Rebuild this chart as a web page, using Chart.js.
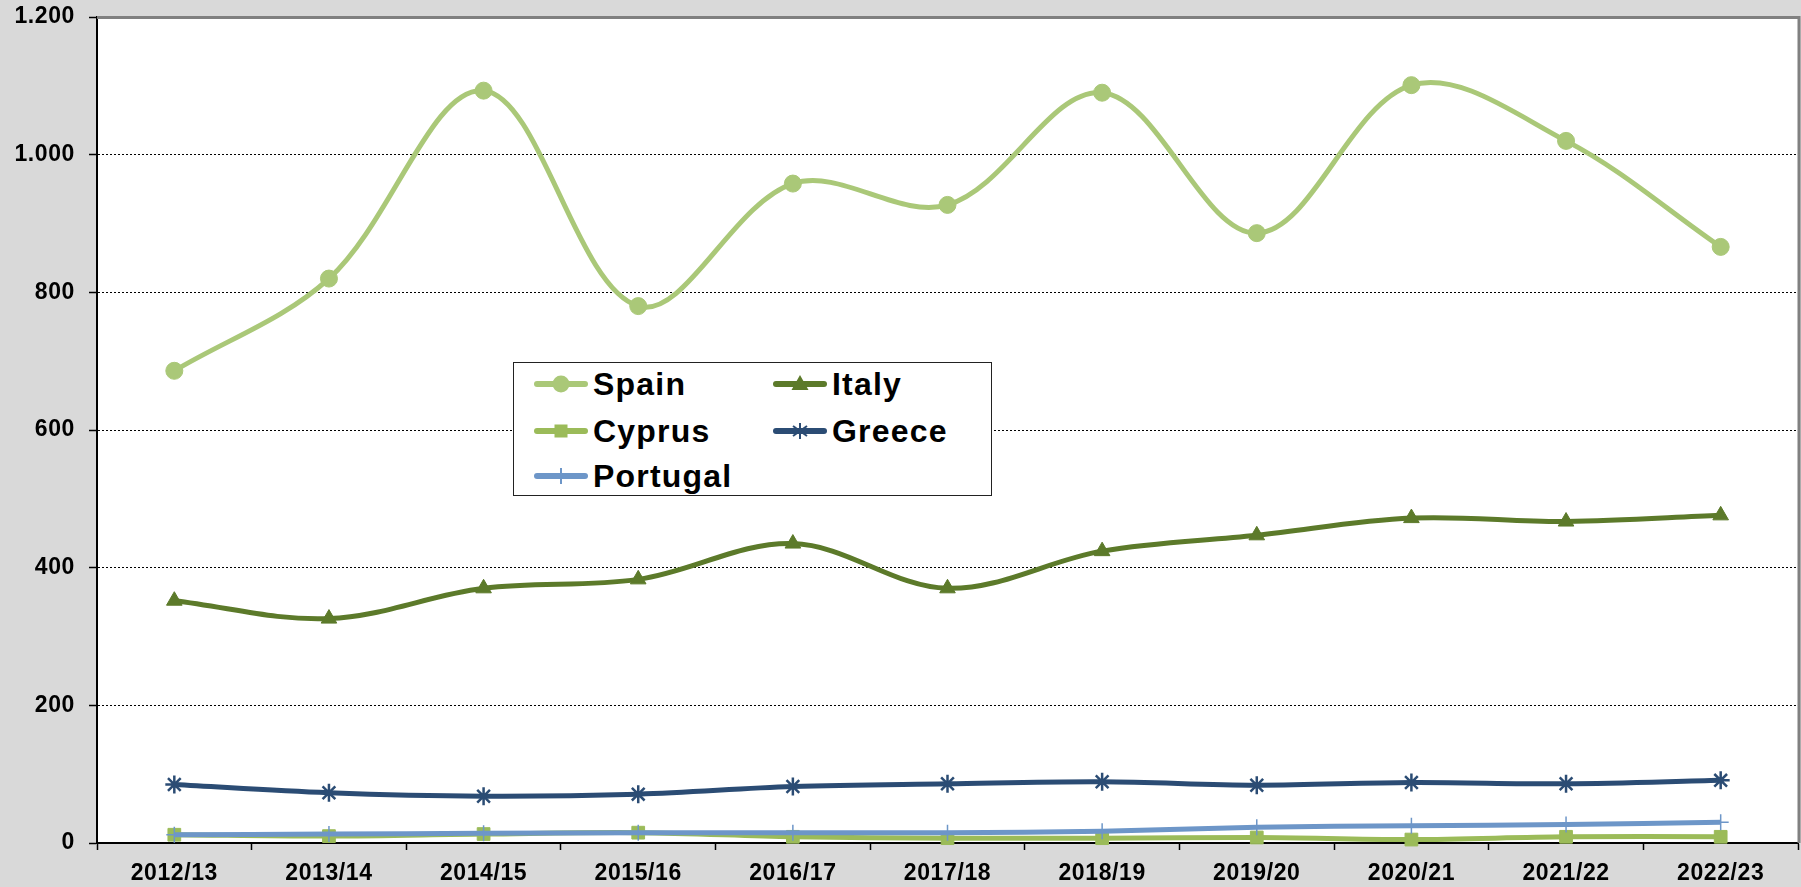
<!DOCTYPE html>
<html><head><meta charset="utf-8">
<script src="https://cdn.jsdelivr.net/npm/chart.js@4"></script>
<style>
html,body{margin:0;padding:0;background:#d9d9d9;overflow:hidden;}
#wrap{position:relative;width:1801px;height:887px;}
#legend{position:absolute;left:513px;top:362px;width:477px;height:132px;background:#fff;border:1.5px solid #222;font-family:'Liberation Sans',Arial,sans-serif;font-weight:bold;font-size:32px;letter-spacing:1.2px;color:#000;}
.item{position:absolute;display:flex;align-items:center;height:40px;white-space:nowrap;}
.item svg{margin-right:5px;}
</style>
</head><body>
<div id="wrap">
<canvas id="c" width="1801" height="887"></canvas>
<div id="legend"></div>
</div>
<script>
const categories = ['2012/13','2013/14','2014/15','2015/16','2016/17','2017/18','2018/19','2019/20','2020/21','2021/22','2022/23'];
const spain    = [686, 820, 1093, 780, 958, 927, 1090, 886, 1101, 1020, 866];
const italy    = [352, 326, 370, 383, 435, 370, 424, 447, 472, 467, 476];
const cyprus   = [12, 10, 13, 15, 9, 7, 7, 8, 5, 9, 9];
const greece   = [85, 73, 68, 71, 82, 86, 89, 84, 88, 86, 91];
const portugal = [12, 13, 14, 15, 15, 15, 17, 23, 25, 27, 30];
const yTicks   = [0, 200, 400, 600, 800, 1000, 1200];

const C = {spain:'#aac878', italy:'#5c7a2a', cyprus:'#9bbb59', greece:'#2b4c74', portugal:'#6d96c8'};

function ds(label, data, color, style, radius, bw, order){
  return {label, data, borderColor:color, backgroundColor:color, pointBackgroundColor:color,
    pointBorderColor:color, pointStyle:style, pointRadius:radius, pointHoverRadius:radius,
    pointBorderWidth:bw, borderWidth:5, tension:0.35, order, clip:false};
}

const LS = '0.6px';
const spacing = {id:'spacing',
  beforeLayout(c){ c.ctx.letterSpacing=LS; },
  beforeDraw(c){
    const ctx=c.ctx, a=c.chartArea;
    ctx.save(); ctx.fillStyle='#fff'; ctx.fillRect(a.left,a.top,a.right-a.left,a.bottom-a.top); ctx.restore();
    ctx.letterSpacing=LS;
  },
  afterDatasetsDraw(c){
    const ctx=c.ctx, a=c.chartArea;
    ctx.save(); ctx.strokeStyle='#808080'; ctx.lineWidth=3;
    ctx.beginPath(); ctx.moveTo(a.left, a.top+0.5); ctx.lineTo(a.right+1, a.top+0.5); ctx.lineTo(a.right+1, a.bottom); ctx.stroke();
    ctx.restore();
  }
};

const FONT = {family:"'Liberation Sans', Arial, sans-serif", weight:'bold', size:23};

new Chart(document.getElementById('c'), {
  type:'line',
  data:{labels:categories, datasets:[
    ds('Spain', spain, C.spain, 'circle', 8.5, 1, 5),
    ds('Italy', italy, C.italy, 'triangle', 9, 1, 4),
    ds('Cyprus', cyprus, C.cyprus, 'rect', 9, 1, 3),
    ds('Greece', greece, C.greece, 'star', 9, 2.5, 2),
    ds('Portugal', portugal, C.portugal, 'cross', 8, 1.5, 1)
  ]},
  options:{
    responsive:false, animation:false, devicePixelRatio:1,
    layout:{autoPadding:false, padding:{top:17,right:3,left:0,bottom:0}},
    plugins:{legend:{display:false}, tooltip:{enabled:false}},
    scales:{
      x:{offset:true,
        grid:{offset:true, drawOnChartArea:false, drawTicks:true, tickLength:7, tickColor:'#000', tickWidth:1.5},
        border:{color:'#000', width:2},
        ticks:{color:'#000', font:FONT, padding:10, maxRotation:0, autoSkip:false},
        afterFit(s){ s.height = 44; s.paddingLeft = 0; s.paddingRight = 0; }
      },
      y:{min:0, max:1200, afterBuildTicks(s){ s.ticks = yTicks.map(v=>({value:v})); },
        grid:{color:'#000', lineWidth:1, tickBorderDash:[], tickColor:'#000', tickLength:8, tickWidth:1.5},
        border:{color:'#000', width:2, dash:[2,2]},
        ticks:{color:'#000', font:FONT, padding:14,
          callback:(v)=>v.toString().replace(/\B(?=(\d{3})+(?!\d))/g,'.')},
        afterFit(s){ s.width = 97; s.paddingTop = 0; s.paddingBottom = 0; }
      }
    }
  },
  plugins:[spacing]
});

// HTML legend
const legendItems = [
  {label:'Spain', color:C.spain, m:'circle', x:20, y:21},
  {label:'Italy', color:C.italy, m:'triangle', x:259, y:21},
  {label:'Cyprus', color:C.cyprus, m:'rect', x:20, y:68},
  {label:'Greece', color:C.greece, m:'star', x:259, y:68},
  {label:'Portugal', color:C.portugal, m:'cross', x:20, y:113}
];
function marker(m,c){
  switch(m){
    case 'circle': return `<circle cx="27" cy="12" r="8.5" fill="${c}"/>`;
    case 'triangle': return `<polygon points="27,3 35.5,18 18.5,18" fill="${c}"/>`;
    case 'rect': return `<rect x="20.5" y="5.5" width="13" height="13" fill="${c}"/>`;
    case 'star': return `<g stroke="${c}" stroke-width="2"><line x1="27" y1="4" x2="27" y2="20"/><line x1="20" y1="7" x2="34" y2="17"/><line x1="34" y1="7" x2="20" y2="17"/></g>`;
    case 'cross': return `<line x1="27" y1="4" x2="27" y2="20" stroke="${c}" stroke-width="2"/>`;
  }
}
const lg = document.getElementById('legend');
legendItems.forEach(it=>{
  const d=document.createElement('div'); d.className='item';
  d.style.left=it.x+'px'; d.style.top=(it.y-20)+'px';
  d.innerHTML=`<svg width="54" height="24" viewBox="0 0 54 24"><line x1="3" y1="12" x2="51" y2="12" stroke="${it.color}" stroke-width="6" stroke-linecap="round"/>${marker(it.m,it.color)}</svg><span>${it.label}</span>`;
  lg.appendChild(d);
});
</script>
</body></html>
